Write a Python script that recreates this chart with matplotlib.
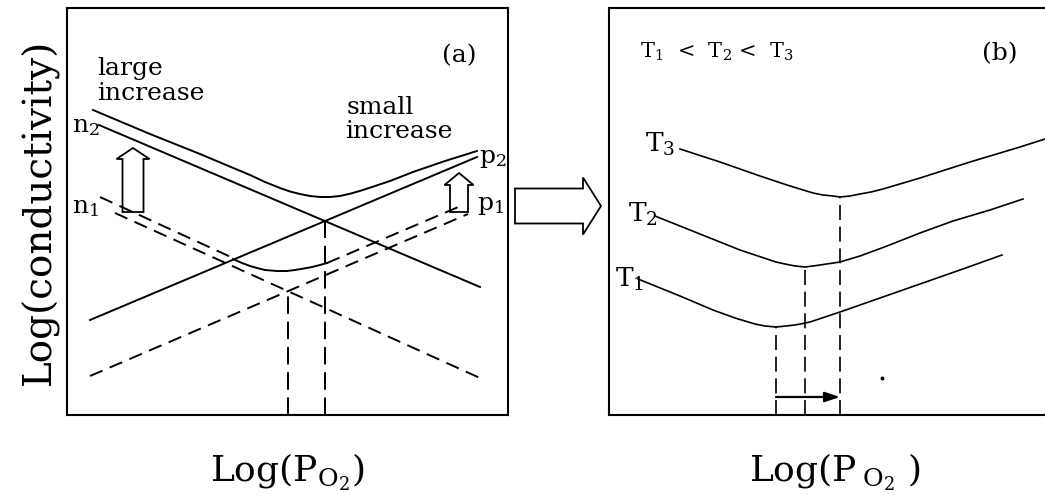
import numpy as np
import matplotlib
matplotlib.use("Agg")
import matplotlib.pyplot as plt
from matplotlib.patches import FancyArrow

plt.rcParams['font.family'] = ['DejaVu Serif']
plt.rcParams['mathtext.fontset'] = 'dejavuserif'

# ---- panel (a): defect-controlled conductivity, schematic units ----
# n-type branches (slope < 0) and p-type branches (slope > 0), endpoints
n2_x, n2_y = [32, 413], [290, 128]
p2_x, p2_y = [23, 410], [95, 258]
n1_x, n1_y = [48, 413], [202, 37]
p1_x, p1_y = [23, 401], [39, 201]

# total conductivity at the higher defect level
sig2_x = [26, 83, 133, 183, 198, 213, 223, 233, 243, 253, 263, 273, 284, 296, 323, 346, 378, 410]
sig2_y = [305, 281, 261, 240, 233, 227, 223.5, 221, 219, 218, 218, 219, 221.5, 225, 234, 243, 254, 264]

# total conductivity at the lower defect level (dashed / solid / dashed)
sig1_left_x, sig1_left_y = [33, 166], [218, 157]
sig1_mid_x = [166, 175, 183, 190, 198, 210, 220, 228, 237, 245, 253, 260]
sig1_mid_y = [156, 152, 149, 147, 145, 144, 144, 145, 146.5, 148, 150, 152]
sig1_right_x, sig1_right_y = [260, 396], [152, 210]

# ---- panel (b): curves at three temperatures ----
t3_x = [71, 111, 151, 178, 191, 204, 214, 224, 231, 241, 251, 262, 274, 311, 361, 411, 436]
t3_y = [266, 253, 239, 230, 226, 222, 220, 219, 218, 219, 221, 223, 226, 237, 253, 268, 276]
t2_x = [46, 91, 131, 158, 167, 176, 186, 196, 204, 211, 221, 231, 241, 251, 278, 311, 344, 381, 414]
t2_y = [199, 181, 165, 156, 153, 151, 149, 148, 149, 150, 151.5, 153, 156, 159, 169, 182, 194, 205, 216]
t1_x = [29, 71, 104, 126, 136, 146, 156, 167, 177, 186, 194, 201, 216, 231, 271, 311, 351, 393]
t1_y = [136, 119, 105, 97, 94, 91, 89, 88, 89, 90, 91.5, 93, 98, 103, 117, 131, 145, 160]


def crossing(xa, ya, xb, yb):
    ka = (ya[1] - ya[0]) / (xa[1] - xa[0])
    kb = (yb[1] - yb[0]) / (xb[1] - xb[0])
    x = (yb[0] - ya[0] + ka * xa[0] - kb * xb[0]) / (ka - kb)
    return x, ya[0] + ka * (x - xa[0])


W, H = 1045, 495
fig = plt.figure(figsize=(W / 100, H / 100), dpi=100)

# pixel-sized axes boxes
axa = fig.add_axes([67 / W, (H - 415) / H, 441 / W, 407 / H])
axb = fig.add_axes([609 / W, (H - 415) / H, 441 / W, 407 / H])
for ax in (axa, axb):
    ax.set_xlim(0, 441)
    ax.set_ylim(0, 407)
    ax.set_xticks([])
    ax.set_yticks([])
    for s in ax.spines.values():
        s.set_linewidth(1.5)

lw = 1.4
dash = (0, (7, 4))
kw = dict(color='black', lw=lw)

# panel (a)
axa.plot(n2_x, n2_y, **kw)
axa.plot(p2_x, p2_y, **kw)
axa.plot(sig2_x, sig2_y, **kw)
axa.plot(n1_x, n1_y, ls=dash, **kw)
axa.plot(p1_x, p1_y, ls=dash, **kw)
axa.plot(sig1_left_x, sig1_left_y, ls=dash, **kw)
axa.plot(sig1_mid_x, sig1_mid_y, **kw)
axa.plot(sig1_right_x, sig1_right_y, ls=dash, **kw)

cx2, cy2 = crossing(n2_x, n2_y, p2_x, p2_y)
cx1, cy1 = crossing(n1_x, n1_y, p1_x, p1_y)
axa.plot([cx2, cx2], [0, cy2], ls=(0, (9, 4)), **kw)
axa.plot([cx1, cx1], [0, cy1], ls=(0, (9, 4)), **kw)

# hollow arrows: big jump on the n side, small jump on the p side
axa.add_patch(FancyArrow(66, 203, 0, 64, width=21, head_width=33, head_length=11,
                         length_includes_head=True, fill=False, lw=1.3))
axa.add_patch(FancyArrow(392, 203, 0, 39, width=18, head_width=29, head_length=12,
                         length_includes_head=True, fill=False, lw=1.3))

fs = 18
axa.text(375, 359, '(a)', fontsize=fs, va='center')
axa.text(30, 340, 'large', fontsize=fs, va='baseline')
axa.text(30, 315, 'increase', fontsize=fs, va='baseline')
axa.text(280, 301, 'small', fontsize=fs, va='baseline')
axa.text(278, 277, 'increase', fontsize=fs, va='baseline')
axa.text(5, 283, 'n$_2$', fontsize=fs, va='baseline')
axa.text(5, 202, 'n$_1$', fontsize=fs, va='baseline')
axa.text(412, 252, 'p$_2$', fontsize=fs, va='baseline', clip_on=False)
axa.text(410, 205, 'p$_1$', fontsize=fs, va='baseline', clip_on=False)

axa.set_ylabel('Log(conductivity)', fontsize=28, labelpad=6)
axa.text(220, -57, r'Log(P$_{\mathrm{O}_2}$)', fontsize=26, ha='center', va='center')

# panel (b)
kb = dict(color='black', lw=1.2)
for cx_, cy_ in ((t3_x, t3_y), (t2_x, t2_y), (t1_x, t1_y)):
    axb.plot(cx_, cy_, **kb)
    i = int(np.argmin(cy_))
    axb.plot([cx_[i], cx_[i]], [0, cy_[i]], ls=(0, (9, 4)), **kb)

x_lo = t1_x[int(np.argmin(t1_y))]
x_hi = t3_x[int(np.argmin(t3_y))]
axb.annotate('', xy=(x_hi, 18), xytext=(x_lo, 18),
             arrowprops=dict(arrowstyle='-|>,head_length=0.9,head_width=0.3',
                             color='black', lw=1.6, shrinkA=0, shrinkB=0))
axb.plot([273], [37], marker='o', ms=1.8, color='black')

axb.text(31, 357, r'T$_1$  <  T$_2$ <  T$_3$', fontsize=15, va='baseline')
axb.text(373, 361, '(b)', fontsize=fs, va='center')
axb.text(36, 263, 'T$_3$', fontsize=19, va='baseline')
axb.text(19, 193, 'T$_2$', fontsize=19, va='baseline')
axb.text(6, 128, 'T$_1$', fontsize=19, va='baseline')
axb.text(226, -57, r'Log(P$\,_{\mathrm{O}_2}$ )', fontsize=26, ha='center', va='center')

# open arrow linking the two panels
over = fig.add_axes([0, 0, 1, 1], facecolor='none')
over.set_xlim(0, W)
over.set_ylim(0, H)
over.axis('off')
over.add_patch(FancyArrow(515, 289, 86, 0, width=35, head_width=57, head_length=18,
                          length_includes_head=True, fill=False, lw=1.3))

fig.savefig('out.png', dpi=100)
